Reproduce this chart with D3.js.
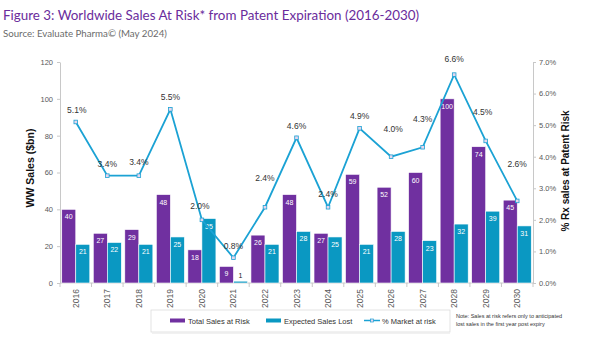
<!DOCTYPE html>
<meta charset="utf-8">
<title>Worldwide Sales At Risk</title>
<style>
body { margin: 0; background: #fff; }
svg { font-family: "Liberation Sans", Arial, sans-serif; }
.title { font-family: Lato, sans-serif; fill: #6a2c9c; }
.source { font-family: Lato, sans-serif; fill: #6b6b6b; }
.axis path, .axis line { stroke: #c8c8c8; }
.axis text { fill: #595959; }
</style>
<svg width="600" height="337"></svg>
<script src="https://cdn.jsdelivr.net/npm/d3@7"></script>
<script>
var years = ["2016","2017","2018","2019","2020","2021","2022","2023","2024","2025","2026","2027","2028","2029","2030"]
var totalAtRisk = [40, 27, 29, 48, 18, 9, 26, 48, 27, 59, 52, 60, 100, 74, 45]
var expectedLost = [21, 22, 21, 25, 35, 1, 21, 28, 25, 21, 28, 23, 32, 39, 31]
var marketPct = [5.1, 3.4, 3.4, 5.5, 2.0, 0.8, 2.4, 4.6, 2.4, 4.9, 4.0, 4.3, 6.6, 4.5, 2.6]
var leftTicks = [0, 20, 40, 60, 80, 100, 120]
var rightTicks = [0, 1, 2, 3, 4, 5, 6, 7]

// how far each % label sits above its point (some are pushed up to clear the line)
var pctLabelDy = [9, 9, 11, 9, 11, 9, 26, 9, 10, 9, 25, 25, 13, 26, 34]
var pctLabelDx = [1, 0, 0, 0, -2, 0, 0, 0, 0, 0, 2, 0, 0, -3, 0]

var PURPLE = "#7030a0", TEAL = "#0a98c2", LINE = "#1ba2d4"

var svg = d3.select("svg")
var plotLeft = 60, plotRight = 533, plotTop = 62, plotBottom = 283

svg.append("text").attr("class", "title")
	.attr("x", 3).attr("y", 20)
	.attr("font-size", 13.4)
	.text("Figure 3: Worldwide Sales At Risk* from Patent Expiration (2016-2030)")

svg.append("text").attr("class", "source")
	.attr("x", 3).attr("y", 37)
	.attr("font-size", 9.7)
	.text("Source: Evaluate Pharma\u00a9 (May 2024)")

var x = d3.scaleBand().domain(years).range([plotLeft, plotRight])
var xs = d3.scaleBand().domain(["total", "lost"]).range([0, x.bandwidth()]).paddingOuter(0.125)
var y = d3.scaleLinear().domain([0, 120]).range([plotBottom, plotTop])
var y2 = d3.scaleLinear().domain([0, 7]).range([plotBottom, plotTop])

// left axis
var gl = svg.append("g").attr("class", "axis")
	.attr("transform", "translate(" + plotLeft + ",0)")
	.call(d3.axisLeft(y).tickValues(leftTicks).tickSize(3).tickSizeOuter(0))
gl.selectAll("text").attr("font-size", 7.5).attr("dx", -1)

// right axis
var gr = svg.append("g").attr("class", "axis")
	.attr("transform", "translate(" + plotRight + ",0)")
	.call(d3.axisRight(y2).tickValues(rightTicks).tickSize(3).tickSizeOuter(0)
		.tickFormat(function(d) { return d.toFixed(1) + "%" }))
gr.selectAll("text").attr("font-size", 7.5)

// bottom axis: ticks between categories, years rotated
var gb = svg.append("g").attr("class", "axis")
	.attr("transform", "translate(0," + plotBottom + ")")
gb.append("line").attr("x1", plotLeft).attr("x2", plotRight).attr("stroke", "#c8c8c8")
gb.selectAll(".sep")
	.data(years.concat(["end"]))
	.enter().append("line")
		.attr("x1", function(d, i) { return plotLeft + i * x.step() })
		.attr("x2", function(d, i) { return plotLeft + i * x.step() })
		.attr("y1", 0).attr("y2", 4)
		.attr("stroke", "#c8c8c8")
gb.selectAll(".yr")
	.data(years)
	.enter().append("text")
		.attr("transform", function(d) { return "translate(" + (x(d) + x.bandwidth() / 2 + 3) + ",6) rotate(-90)" })
		.attr("text-anchor", "end")
		.attr("font-size", 8.5)
		.attr("fill", "#222")
		.text(function(d) { return d })

// axis titles
svg.append("text")
	.attr("transform", "translate(34,168) rotate(-90)")
	.attr("text-anchor", "middle")
	.attr("font-size", 10.5).attr("font-weight", "bold").attr("fill", "#111")
	.text("WW Sales ($bn)")
svg.append("text")
	.attr("transform", "translate(569,171) rotate(-90)")
	.attr("text-anchor", "middle")
	.attr("font-size", 10).attr("font-weight", "bold").attr("fill", "#111")
	.text("% Rx sales at Patent Risk")

// bars
var barData = []
years.forEach(function(yr, i) {
	barData.push({year: yr, key: "total", value: totalAtRisk[i]})
	barData.push({year: yr, key: "lost", value: expectedLost[i]})
})

var bars = svg.append("g").selectAll("g")
	.data(barData)
	.enter().append("g")

bars.append("rect")
	.attr("x", function(d) { return x(d.year) + xs(d.key) })
	.attr("y", function(d) { return y(d.value) })
	.attr("width", xs.bandwidth())
	.attr("height", function(d) { return plotBottom - y(d.value) })
	.attr("fill", function(d) { return d.key == "total" ? PURPLE : TEAL })
	.attr("stroke", "#fff").attr("stroke-width", 0.6)

bars.append("text")
	.attr("x", function(d) { return x(d.year) + xs(d.key) + xs.bandwidth() / 2 })
	.attr("y", function(d) {
		var small = plotBottom - y(d.value) < 12
		return small ? y(d.value) - 3 : y(d.value) + 10
	})
	.attr("text-anchor", "middle")
	.attr("font-size", 7)
	.attr("fill", function(d) { return plotBottom - y(d.value) < 12 ? "#222" : "#fff" })
	.text(function(d) { return d.value })

// % market at risk line
var line = d3.line()
	.x(function(d, i) { return x(years[i]) + x.bandwidth() / 2 })
	.y(function(d) { return y2(d) })

svg.append("path")
	.datum(marketPct)
	.attr("d", line)
	.attr("fill", "none")
	.attr("stroke", LINE)
	.attr("stroke-width", 1.8)

svg.append("g").selectAll("rect")
	.data(marketPct)
	.enter().append("rect")
		.attr("x", function(d, i) { return x(years[i]) + x.bandwidth() / 2 - 1.8 })
		.attr("y", function(d) { return y2(d) - 1.8 })
		.attr("width", 3.6).attr("height", 3.6)
		.attr("fill", "#e6d6ee")
		.attr("stroke", LINE).attr("stroke-width", 0.8)

svg.append("g").selectAll("text")
	.data(marketPct)
	.enter().append("text")
		.attr("x", function(d, i) { return x(years[i]) + x.bandwidth() / 2 + pctLabelDx[i] })
		.attr("y", function(d, i) { return y2(d) - pctLabelDy[i] })
		.attr("text-anchor", "middle")
		.attr("font-size", 8.5)
		.attr("fill", "#333")
		.text(function(d) { return d.toFixed(1) + "%" })

// legend
var lg = svg.append("g")
lg.append("rect")
	.attr("x", 151).attr("y", 310).attr("width", 299).attr("height", 22)
	.attr("fill", "#fff").attr("stroke", "#dcdcdc").attr("stroke-width", 0.8)
lg.append("line")
	.attr("x1", 152).attr("x2", 450).attr("y1", 333).attr("y2", 333)
	.attr("stroke", "#ececec").attr("stroke-width", 1.5)

var legendItems = [
	{label: "Total Sales at Risk", color: PURPLE, type: "bar", x: 170},
	{label: "Expected Sales Lost", color: TEAL, type: "bar", x: 266},
	{label: "% Market at risk", color: LINE, type: "line", x: 364}
]
legendItems.forEach(function(it) {
	if (it.type == "bar") {
		lg.append("rect").attr("x", it.x).attr("y", 318.5).attr("width", 15).attr("height", 4).attr("fill", it.color)
	} else {
		lg.append("line").attr("x1", it.x).attr("x2", it.x + 16).attr("y1", 320.5).attr("y2", 320.5)
			.attr("stroke", it.color).attr("stroke-width", 1.5)
		lg.append("rect").attr("x", it.x + 6.5).attr("y", 319).attr("width", 3).attr("height", 3)
			.attr("fill", "#e6d6ee").attr("stroke", it.color).attr("stroke-width", 0.7)
	}
	lg.append("text").attr("x", it.x + 18).attr("y", 323.5)
		.attr("font-size", 7.5).attr("fill", "#333")
		.text(it.label)
})

// footnote
var note = svg.append("text").attr("x", 456).attr("y", 318).attr("font-size", 5.5).attr("fill", "#333")
note.append("tspan").text("Note: Sales at risk refers only to anticipated")
note.append("tspan").attr("x", 456).attr("dy", 7.5).text("lost sales in the first year post expiry")
</script>
